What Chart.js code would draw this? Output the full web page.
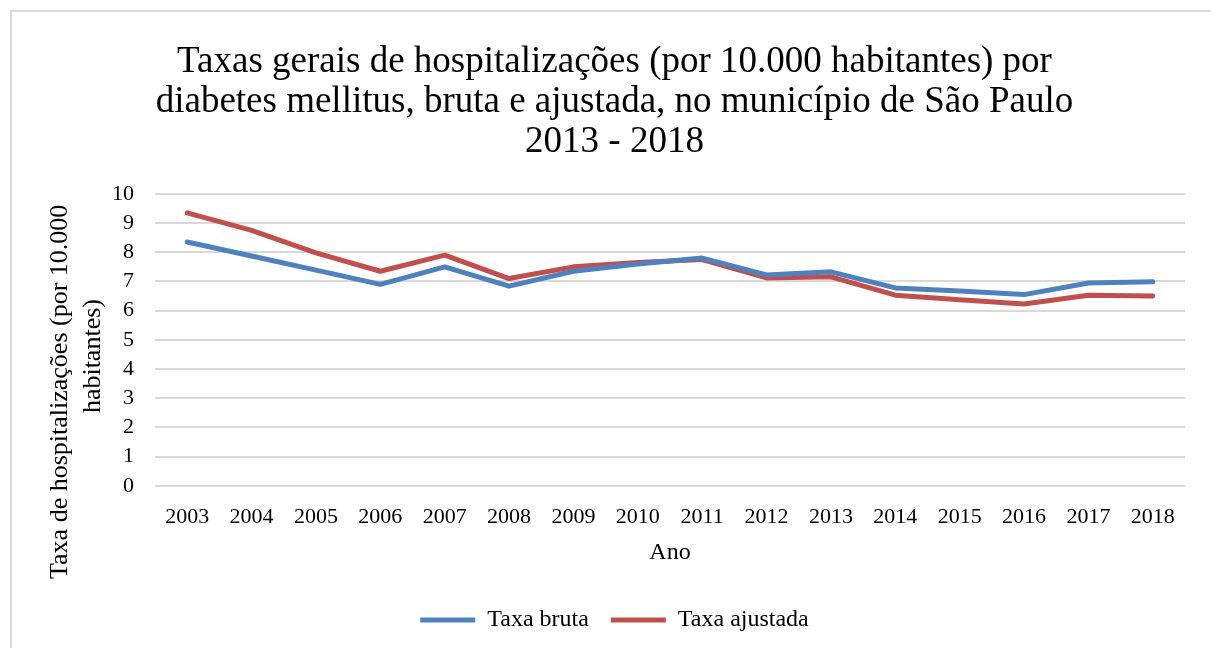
<!DOCTYPE html>
<html>
<head>
<meta charset="utf-8">
<script src="https://cdn.jsdelivr.net/npm/chart.js@4.4.0/dist/chart.umd.min.js"></script>
<style>
  html, body { margin: 0; padding: 0; background: #fff; overflow: hidden; }
  #frame {
    position: absolute; left: 10px; top: 10px;
    width: 1220px; height: 660px;
    border: 2px solid #d9d9d9; box-sizing: border-box;
  }
  #wrap { position: absolute; left: 0; top: 0; width: 1211px; height: 648px; }
</style>
</head>
<body>
<div id="frame"></div>
<div id="wrap"><canvas id="chart"></canvas></div>
<script>
// Dados
const anos = ["2003", "2004", "2005", "2006", "2007", "2008", "2009", "2010",
  "2011", "2012", "2013", "2014", "2015", "2016", "2017", "2018"];
const taxaBruta = [8.35, 7.87, 7.39, 6.9, 7.5, 6.84, 7.35, 7.6,
  7.8, 7.22, 7.33, 6.78, 6.67, 6.55, 6.95, 6.99];
const taxaAjustada = [9.35, 8.75, 7.98, 7.35, 7.9, 7.1, 7.5, 7.65,
  7.75, 7.12, 7.16, 6.53, 6.37, 6.23, 6.53, 6.5];
const tituloLinhas = [
  "Taxas gerais de hospitalizações (por 10.000 habitantes) por",
  "diabetes mellitus, bruta e ajustada, no município de São Paulo",
  "2013 - 2018",
];
// espaços no fim deslocam o texto rotacionado para baixo, como no original
const tituloEixoY = [
  "Taxa de hospitalizações (por 10.000" + " ".repeat(16),
  "habitantes)" + " ".repeat(5),
];

const fonte = "'Liberation Serif', 'Times New Roman', serif";
Chart.defaults.font.family = fonte;
Chart.defaults.color = "#000";

const ctx = document.getElementById("chart").getContext("2d");
new Chart(ctx, {
  type: "line",
  data: {
    labels: anos,
    datasets: [
      {
        label: "Taxa bruta",
        data: taxaBruta,
        borderColor: "#4f81bd",
        backgroundColor: "#4f81bd",
        borderWidth: 5,
        pointRadius: 0,
        tension: 0,
        borderCapStyle: "round",
        borderJoinStyle: "round",
      },
      {
        label: "Taxa ajustada",
        data: taxaAjustada,
        borderColor: "#c0504d",
        backgroundColor: "#c0504d",
        borderWidth: 5,
        pointRadius: 0,
        tension: 0,
        borderCapStyle: "round",
        borderJoinStyle: "round",
      },
    ],
  },
  options: {
    responsive: true,
    maintainAspectRatio: false,
    animation: false,
    layout: { padding: { left: 44, right: 26, top: 42, bottom: 6 } },
    plugins: {
      title: {
        display: true,
        text: tituloLinhas,
        font: { size: 37, weight: "normal", lineHeight: 1.08 },
        padding: { top: 0, bottom: 32 },
      },
      legend: {
        position: "bottom",
        labels: {
          usePointStyle: true,
          pointStyle: "line",
          pointStyleWidth: 55,
          boxHeight: 20,
          font: { size: 24 },
          padding: 22,
        },
      },
      tooltip: { enabled: false },
    },
    scales: {
      x: {
        offset: true,
        grid: { display: false, drawTicks: false },
        border: { display: false },
        ticks: { font: { size: 22 }, padding: 18, maxRotation: 0 },
        title: {
          display: true,
          text: "Ano",
          font: { size: 24 },
          padding: { top: -10, bottom: 19 },
        },
      },
      y: {
        min: 0,
        max: 10,
        grid: { color: "#d9d9d9", lineWidth: 2, drawTicks: false },
        border: { display: false },
        ticks: { stepSize: 1, autoSkip: false, font: { size: 22 }, padding: 21 },
        title: {
          display: true,
          text: tituloEixoY,
          font: { size: 26, lineHeight: 1.25 },
          padding: { top: 0, bottom: -18 },
        },
      },
    },
  },
});
</script>
</body>
</html>
